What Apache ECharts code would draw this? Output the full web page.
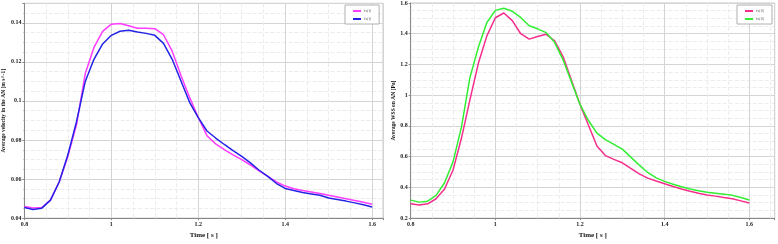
<!DOCTYPE html>
<html>
<head>
<meta charset="utf-8">
<script src="https://cdn.jsdelivr.net/npm/echarts@6/dist/echarts.min.js"></script>
<style>
  html, body { margin: 0; padding: 0; background: #fff; }
  #main { width: 778px; height: 244px; }
</style>
</head>
<body>
<div id="main"></div>
<script>
// time samples [s]
const times = [0.80, 0.82, 0.84, 0.86, 0.88, 0.90, 0.92, 0.94, 0.96, 0.98,
  1.00, 1.02, 1.04, 1.06, 1.08, 1.10, 1.12, 1.14, 1.16, 1.18,
  1.20, 1.22, 1.24, 1.26, 1.28, 1.30, 1.32, 1.34, 1.36, 1.38,
  1.40, 1.42, 1.44, 1.46, 1.48, 1.50, 1.52, 1.54, 1.56, 1.58, 1.60];

// left chart: average velocity [m s^-1]
const velMagenta = [0.0459, 0.0452, 0.0454, 0.0492, 0.0585, 0.0716, 0.0879, 0.1140, 0.1274, 0.1356,
  0.1393, 0.1397, 0.1385, 0.1372, 0.1372, 0.1370, 0.1339, 0.1255, 0.1132, 0.1018,
  0.0915, 0.0822, 0.0780, 0.0751, 0.0724, 0.0699, 0.0672, 0.0642, 0.0614, 0.0585,
  0.0564, 0.0550, 0.0541, 0.0534, 0.0526, 0.0517, 0.0508, 0.0499, 0.0490, 0.0481, 0.0471];
const velBlue = [0.0454, 0.0444, 0.0451, 0.0492, 0.0585, 0.0724, 0.0895, 0.1100, 0.1213, 0.1292,
  0.1336, 0.1357, 0.1362, 0.1353, 0.1346, 0.1336, 0.1295, 0.1213, 0.1103, 0.0993,
  0.0915, 0.0846, 0.0810, 0.0777, 0.0745, 0.0716, 0.0683, 0.0645, 0.0614, 0.0577,
  0.0552, 0.0541, 0.0531, 0.0524, 0.0517, 0.0503, 0.0495, 0.0487, 0.0478, 0.0468, 0.0457];

// right chart: average WSS [Pa]
const wssPink = [0.293, 0.285, 0.293, 0.326, 0.389, 0.513, 0.721, 0.971, 1.209, 1.386,
  1.504, 1.535, 1.485, 1.400, 1.365, 1.382, 1.396, 1.354, 1.251, 1.095,
  0.940, 0.804, 0.669, 0.607, 0.582, 0.560, 0.524, 0.488, 0.460, 0.441,
  0.424, 0.406, 0.389, 0.375, 0.362, 0.351, 0.343, 0.334, 0.326, 0.312, 0.298];
const wssGreen = [0.317, 0.304, 0.310, 0.348, 0.430, 0.566, 0.794, 1.116, 1.313, 1.473,
  1.552, 1.566, 1.546, 1.506, 1.452, 1.432, 1.407, 1.344, 1.230, 1.085,
  0.940, 0.835, 0.753, 0.711, 0.680, 0.649, 0.597, 0.545, 0.497, 0.462,
  0.439, 0.420, 0.404, 0.390, 0.378, 0.368, 0.362, 0.356, 0.348, 0.334, 0.318];

const legendNames = ['fx(t)', 'fx(t) '];
const legendNamesR = ['fx(0)', 'fx(0) '];

const pairs = (ys) => times.map((t, i) => [t, ys[i]]);

const font = 'Liberation Serif';
const labelStyle = { fontFamily: font, fontSize: 6, fontWeight: 'bold', color: '#222' };

function xAxisCfg(gridIndex, max) {
  return {
    type: 'value', gridIndex, min: 0.8, max, interval: 0.2,
    name: 'Time [ s ]', nameLocation: 'middle', nameGap: 9,
    nameTextStyle: { fontFamily: font, fontSize: 7, fontWeight: 'bold', color: '#111' },
    axisLine: { lineStyle: { color: '#888' } },
    axisTick: { length: 2, lineStyle: { color: '#888' } },
    minorTick: { show: true, splitNumber: 4, length: 1, lineStyle: { color: '#aaa' } },
    axisLabel: { ...labelStyle, margin: 3, showMaxLabel: false,
      formatter: v => String(+v.toFixed(2)) },
    splitLine: { show: true, lineStyle: { color: '#d4d4d4', width: 1 } },
    minorSplitLine: { show: true, lineStyle: { color: '#ececec', type: 'dashed' } }
  };
}

function yAxisCfg(gridIndex, min, max, interval, name, showMax) {
  return {
    type: 'value', gridIndex, min, max, interval,
    name, nameLocation: 'middle', nameGap: showMax ? 11 : 14, nameRotate: 90,
    nameTextStyle: { fontFamily: font, fontSize: 5.5, fontWeight: 'bold', color: '#111' },
    axisLine: { show: true, lineStyle: { color: '#888' } },
    axisTick: { length: 2, lineStyle: { color: '#888' } },
    minorTick: { show: true, splitNumber: 4, length: 1, lineStyle: { color: '#aaa' } },
    axisLabel: { ...labelStyle, margin: 3, showMaxLabel: showMax,
      formatter: v => String(+v.toFixed(2)) },
    splitLine: { show: true, lineStyle: { color: '#d4d4d4', width: 1 } },
    minorSplitLine: { show: true, lineStyle: { color: '#ececec', type: 'dashed' } }
  };
}

function lineSeries(name, xi, ys, color) {
  return {
    type: 'line', name, xAxisIndex: xi, yAxisIndex: xi,
    data: pairs(ys), showSymbol: false, symbol: 'none',
    lineStyle: { color, width: 1.5 }, itemStyle: { color },
    emphasis: { disabled: true }, animation: false
  };
}

const legendBase = {
  orient: 'vertical', itemWidth: 8, itemHeight: 2, itemGap: 4,
  padding: [4, 7, 3, 8], borderColor: '#b0b0b0', borderWidth: 1,
  backgroundColor: '#fff', icon: 'rect',
  textStyle: { fontFamily: font, fontSize: 4, color: '#666', padding: [0, 0, 0, -2] }
};

const chart = echarts.init(document.getElementById('main'));
chart.setOption({
  animation: false,
  backgroundColor: '#fff',
  grid: [
    { left: 20, top: 3.3, width: 363, height: 224.4, show: true, borderColor: '#c8c8c8', borderWidth: 1 },
    { left: 410.7, top: 2.3, width: 364, height: 224.7, show: true, borderColor: '#c8c8c8', borderWidth: 1 }
  ],
  legend: [
    { ...legendBase, left: 345, top: 5, data: legendNames },
    { ...legendBase, left: 737, top: 5, data: legendNamesR }
  ],
  xAxis: [xAxisCfg(0, 1.625), xAxisCfg(1, 1.66)],
  yAxis: [
    yAxisCfg(0, 0.04, 0.15, 0.02, 'Average velocity in the AN [m s^-1]', false),
    yAxisCfg(1, 0.2, 1.6, 0.2, 'Average WSS on AN [Pa]', true)
  ],
  series: [
    lineSeries(legendNames[0], 0, velMagenta, '#ff3cff'),
    lineSeries(legendNames[1], 0, velBlue, '#2323e6'),
    lineSeries(legendNamesR[0], 1, wssPink, '#f52d8c'),
    lineSeries(legendNamesR[1], 1, wssGreen, '#32ee32')
  ]
});
</script>
</body>
</html>
